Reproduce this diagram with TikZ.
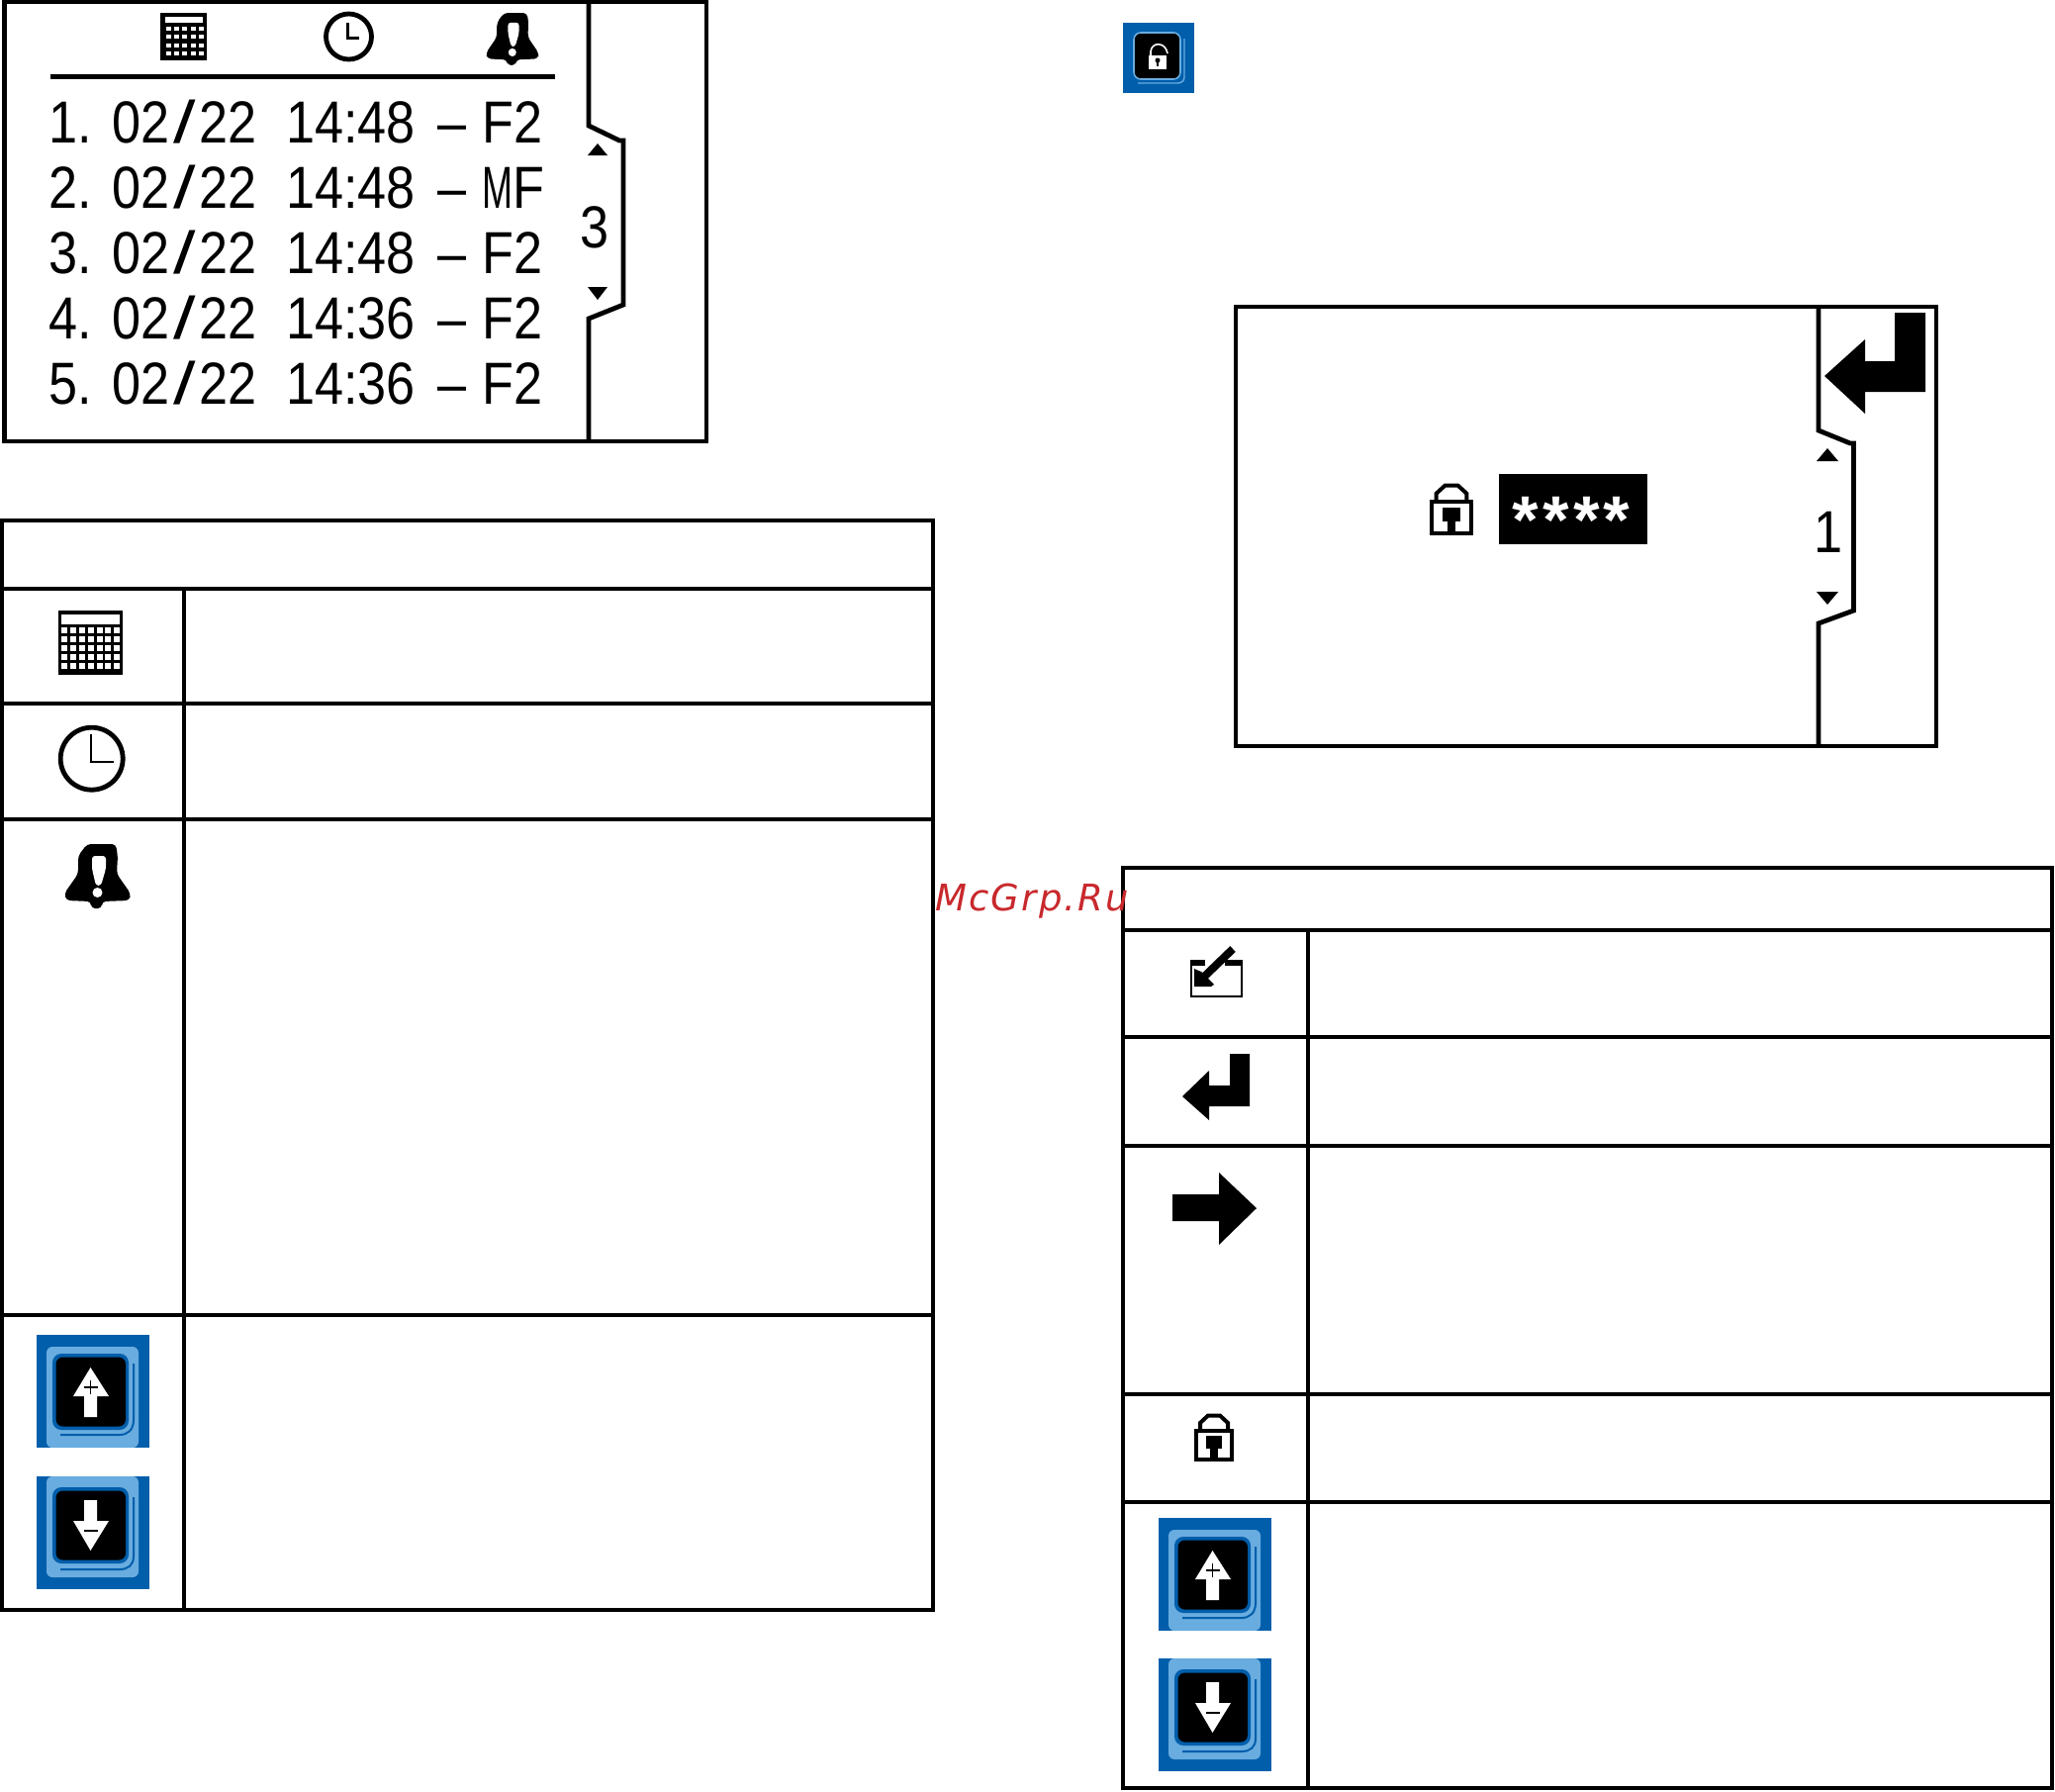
\documentclass[tikz,border=0pt]{standalone}
\usepackage{fontspec}
\newfontfamily\lcd[FakeStretch=0.87]{Liberation Sans}
\newfontfamily\lcdm[FakeStretch=0.62]{Liberation Sans}
\newfontfamily\lcdw[FakeStretch=1.35]{Liberation Sans}
\newfontfamily\starfont{Liberation Mono Bold}
\newfontfamily\markfont[LetterSpace=5.8]{DejaVu Sans Oblique}
\definecolor{btnblue}{HTML}{005EAB}
\definecolor{btnlight}{HTML}{69ACDF}
\definecolor{markred}{HTML}{C8282C}
\newcommand{\lcdfont}{\lcd\fontsize{30pt}{30pt}\selectfont}
\newcommand{\rowtext}[3]{\lcdfont\makebox[32pt][l]{#1}\makebox[88pt][l]{02\kern2pt{\lcdw\fontsize{30pt}{30pt}\selectfont/}\kern2pt22}\makebox[76.5pt][l]{14:#2}\makebox[22.5pt][l]{–}#3}
\tikzset{
  frameline/.style={line width=2.4pt,draw=black},
  thinline/.style={line width=1.5pt,draw=black},
  lcdtext/.style={inner sep=0pt,anchor=base west,font=\lcdfont},
  lcdnum/.style={inner sep=0pt,anchor=base,font=\lcdfont},
  bellpic/.pic={
    \fill[black,rounded corners=2pt] (23,0)--(52,0)--(54,12)--(53,30)--(67,50)--(66,57)--(38,58)--(38,65)--(27,65)--(27,58)--(2,57)--(0,50)--(14,30)--(14,12)--cycle;
    \fill[white,rounded corners=1.5pt] (28,12)--(42,12)--(42,25)--(37,42)--(32,42)--(28,25)--cycle;
    \fill[white] (33.5,49) circle[radius=5];
  },
  upbtn/.pic={
    \fill[btnblue] (0,0) rectangle (113.5,114);
    \fill[btnlight,rounded corners=3pt] (10,114)--(10,12)--(103,12)--(103,114)--cycle;
    \fill[btnblue,rounded corners=4.5pt] (16,19) rectangle (93,96);
    \fill[black,rounded corners=3.5pt] (19.5,22.5) rectangle (90,92.5);
    \draw[btnblue,line width=1pt] (98,29)--(98,86) .. controls (98,96) and (92,101) .. (84,101)--(24,101);
    \fill[white] (54.5,33)--(73,62)--(61,62)--(61,83)--(48,83)--(48,62)--(37,62)--cycle;
    \draw[black,line width=.6pt] (47.5,53)--(61.5,53) (54.5,46)--(54.5,60);
  },
  downbtn/.pic={
    \fill[btnblue] (0,0) rectangle (113.5,114);
    \fill[btnlight,rounded corners=3pt] (10,0)--(10,102)--(103,102)--(103,0)--cycle;
    \fill[btnblue,rounded corners=4.5pt] (16,11) rectangle (93,88);
    \fill[black,rounded corners=3.5pt] (19.5,14.5) rectangle (90,84.5);
    \draw[btnblue,line width=1pt] (98,21)--(98,81) .. controls (98,90) and (92,94) .. (84,94)--(24,94);
    \fill[white] (48,24)--(61,24)--(61,45)--(73,45)--(54.5,75)--(37,45)--(48,45)--cycle;
    \draw[black,line width=.7pt] (47.5,55)--(61.5,55);
  },
  lockpic/.pic={
    \draw[black,line width=2pt] (2,18) rectangle (38,47);
    \draw[black,line width=2pt] (6,17)--(6,10)--(14,2.5)--(26,2.5)--(34,10)--(34,17);
    \fill[black] (12,23) rectangle (28,36);
    \fill[black] (16,36) rectangle (24,46);
  },
  enterpic/.pic={
    \fill[black] (68,0)--(68,53)--(27,53)--(27,67)--(0,43)--(27,17)--(27,32)--(48,32)--(48,0)--cycle;
  },
}
\begin{document}
\begin{tikzpicture}[x=.5pt,y=-.5pt]
\useasboundingbox (0,0) rectangle (2077,1810);
% ---------- screen 1
\draw[frameline] (4.5,2) rectangle (714,446);
\draw[frameline] (595,2)--(595,127)--(626,142)--(630,142)--(630,308)--(595,322)--(595,446);
\draw[line width=2.5pt] (51,77)--(561,77);
% calendar small
\fill[black] (161.5,13) rectangle (209,61);
\fill[white] (167,17) rectangle (205,23);
\foreach \c in {0,...,4}{\foreach \r in {0,...,3}{
  \fill[white] ({168+8.2*\c},{27+8.3*\r}) rectangle ({173+8.2*\c},{31+8.3*\r});}}
% clock small
\draw[frameline] (352.5,37) circle[radius=23];
\draw[thinline] (351.5,23)--(351.5,38)--(363,38);
\pic[xscale=.8,yscale=.815] at (491,13) {bellpic};
\node[lcdtext] (row1) at (49,144) {\rowtext{1.}{48}{F2}};
\node[lcdtext] (row2) at (49,210) {\rowtext{2.}{48}{{\lcdm M}F}};
\node[lcdtext] (row3) at (49,276) {\rowtext{3.}{48}{F2}};
\node[lcdtext] (row4) at (49,342) {\rowtext{4.}{36}{F2}};
\node[lcdtext] (row5) at (49,408) {\rowtext{5.}{36}{F2}};
\fill[black] (604,145)--(614,157)--(594,157)--cycle;
\fill[black] (594,290)--(614,290)--(604,303)--cycle;
\node[lcdnum] (pg1) at (601,250) {3};
% ---------- table 1
\draw[frameline] (2,526) rectangle (943,1627);
\draw[frameline] (2,595)--(943,595) (2,711)--(943,711) (2,828)--(943,828) (2,1329)--(943,1329);
\draw[frameline] (186,595)--(186,1627);
% calendar large
\fill[black] (59,617) rectangle (124,682);
\fill[white] (62,621) rectangle (121,631);
\foreach \c in {0,...,6}{\foreach \r in {0,...,4}{
  \fill[white] ({61.7+8.95*\c},{634+9*\r}) rectangle ({67.7+8.95*\c},{640+9*\r});}}
% clock large
\draw[frameline] (92.7,766.7) circle[radius=31.5];
\draw[line width=1pt] (92,742)--(92,770)--(115,770);
\pic at (65,853) {bellpic};
\pic at (37,1349) {upbtn};
\pic at (37,1492) {downbtn};
% ---------- lock button
\fill[btnblue] (1135,23) rectangle (1207,94);
\draw[btnlight,line width=.8pt,fill=black,rounded corners=3.5pt] (1146,33) rectangle (1193,80);
\draw[btnlight,line width=.7pt] (1197,39)--(1197,78) .. controls (1197,82) and (1194,84) .. (1190,84)--(1150,84);
\fill[white] (1161,56) rectangle (1179,70);
\draw[white,line width=.8pt] (1163,56)--(1163,52) .. controls (1164,42) and (1178,42) .. (1180,54);
\fill[black] (1170,61) circle[radius=2.5];
\fill[black] (1169,61) rectangle (1171,67);
% ---------- screen 2
\draw[frameline] (1249,310) rectangle (1957,754);
\draw[frameline] (1838,310)--(1838,435)--(1870,448)--(1873.5,448)--(1873.5,617)--(1838,630)--(1838,754);
\fill[black] (1946,316)--(1946,396)--(1885,396)--(1885,418)--(1844,380)--(1885,343)--(1885,365)--(1915,365)--(1915,316)--cycle;
\fill[black] (1847,453)--(1858,466)--(1836,466)--cycle;
\fill[black] (1836,598)--(1858,598)--(1847,611)--cycle;
\node[lcdnum] (pg2) at (1847.5,558) {1};
\pic[xscale=1.1,yscale=1.08] at (1445,488) {lockpic};
\fill[black] (1515,479) rectangle (1665,550);
\node[inner sep=0pt,anchor=base,text=white,font=\starfont\fontsize{34pt}{34pt}\selectfont] (pin) at (1588,551) {*\kern-5pt*\kern-5pt*\kern-5pt*};
% ---------- table 2
\draw[frameline] (1135,877) rectangle (2074,1807);
\draw[frameline] (1135,940)--(2074,940) (1135,1048)--(2074,1048) (1135,1158)--(2074,1158) (1135,1409)--(2074,1409) (1135,1518)--(2074,1518);
\draw[frameline] (1322,940)--(1322,1807);
% write icon
\draw[black,line width=1.2pt] (1204,975)--(1204,1007)--(1255,1007)--(1255,975);
\draw[black,line width=3pt] (1203,973)--(1218,973) (1238,973)--(1256,973);
\draw[black,line width=4pt] (1246,959)--(1215,989);
\fill[black] (1207,997)--(1207,979)--(1214,982)--(1227,995)--(1224,997)--cycle;
\pic at (1195,1065) {enterpic};
\fill[black] (1185,1207)--(1232,1207)--(1232,1185)--(1270,1221)--(1232,1258)--(1232,1234)--(1185,1234)--cycle;
\pic at (1207,1428) {lockpic};
\pic at (1171,1534) {upbtn};
\pic at (1171,1676) {downbtn};
% ---------- watermark
\node[inner sep=0pt,anchor=base west,text=markred,font=\markfont\fontsize{18.5pt}{18.5pt}\selectfont] (mark) at (945,920) {McGrp.Ru};
\end{tikzpicture}
\end{document}
